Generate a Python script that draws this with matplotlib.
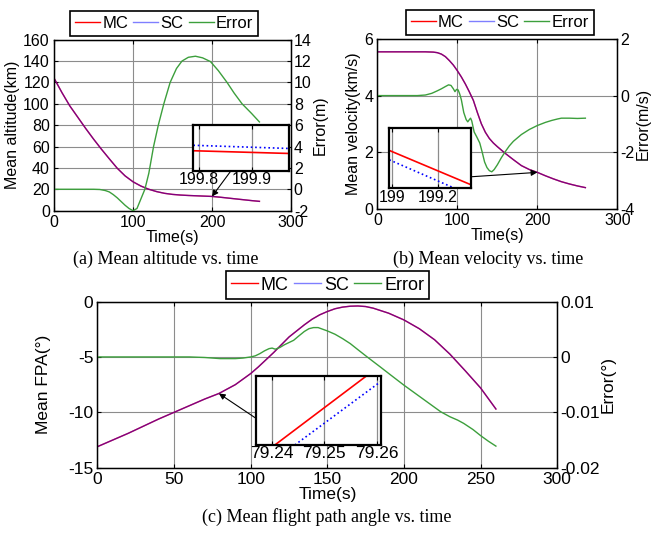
"""Mean altitude, velocity and flight path angle: MC vs SC, with error."""

import matplotlib
matplotlib.use("Agg")
import matplotlib.pyplot as plt

plt.rcParams["font.family"] = ["Liberation Sans", "DejaVu Sans"]
plt.rcParams["axes.unicode_minus"] = False

# ---- (a) mean altitude ----
T_ALT = [0, 10, 20, 30, 40, 50, 60, 70, 80, 90, 100, 110, 120, 130, 140, 150,
         160, 170, 180, 190, 200, 210, 220, 230, 240, 250, 260]
ALT_MC = [124, 110.5, 98, 87.5, 77, 67, 57.5, 48.5, 39.7, 32.5, 27, 23, 20, 17.8,
          16.2, 15.2, 14.6, 14.2, 13.9, 13.6, 13.3, 12.6, 11.8, 11.0, 10.2, 9.4, 8.7]
ALT_SC = [124, 110.5, 98, 87.5, 77, 67, 57.5, 48.5, 39.7, 32.5, 27, 23, 20, 17.8,
          16.2, 15.2, 14.6, 14.2, 13.9, 13.6, 13.3, 12.6, 11.8, 11.0, 10.2, 9.4, 8.7]
T_ALT_ERR = [0, 50, 58, 65, 70, 75, 80, 85, 90, 95, 100, 105, 110, 115, 120, 126,
             132, 139, 147, 155, 162, 170, 179, 188, 198, 208, 219, 228, 238, 250, 260]
ALT_ERR = [0, 0, -0.02, -0.12, -0.25, -0.5, -0.8, -1.15, -1.5, -1.8, -2.0, -1.8,
           -0.9, 0, 1.5, 4, 6, 8, 10, 11.3, 12, 12.35, 12.45, 12.3, 11.95, 11.1,
           10, 9, 8, 7.1, 6.3]
ZOOM_A_T = [199.79, 199.97]
ZOOM_A_MC = [13.288, 13.276]
ZOOM_A_SC = [13.312, 13.298]

# ---- (b) mean velocity ----
T_VEL = [0, 10, 20, 30, 40, 50, 60, 70, 75, 80, 85, 90, 95, 100, 105, 110, 115,
         120, 125, 130, 135, 140, 145, 150, 155, 160, 170, 180, 190, 200, 210,
         220, 230, 240, 250, 260]
VEL_MC = [5.55, 5.55, 5.55, 5.55, 5.55, 5.55, 5.55, 5.54, 5.52, 5.47, 5.38, 5.24,
          5.08, 4.88, 4.66, 4.41, 4.13, 3.83, 3.40, 3.0, 2.7, 2.48, 2.32, 2.19,
          2.07, 1.95, 1.73, 1.52, 1.38, 1.28, 1.16, 1.05, 0.95, 0.87, 0.8, 0.74]
VEL_SC = [5.55, 5.55, 5.55, 5.55, 5.55, 5.55, 5.55, 5.54, 5.52, 5.47, 5.38, 5.24,
          5.08, 4.88, 4.66, 4.41, 4.13, 3.83, 3.40, 3.0, 2.7, 2.48, 2.32, 2.19,
          2.07, 1.95, 1.73, 1.52, 1.38, 1.28, 1.16, 1.05, 0.95, 0.87, 0.8, 0.74]
T_VEL_ERR = [0, 50, 60, 68, 75, 80, 85, 89, 92, 95, 97, 99, 101, 103, 105, 108,
             111, 113, 115, 116.5, 118, 121, 124, 128, 131, 134, 137, 140, 143,
             146, 150, 155, 160, 165, 170, 180, 190, 200, 210, 218, 225, 230, 240,
             250, 260]
VEL_ERR = [0, 0, 0.02, 0.08, 0.17, 0.24, 0.32, 0.38, 0.36, 0.24, 0.14, 0.22, 0.2,
           0.05, -0.15, -0.6, -0.85, -0.93, -0.85, -0.8, -0.9, -1.29, -1.45,
           -1.68, -2.0, -2.35, -2.55, -2.66, -2.7, -2.62, -2.45, -2.2, -1.98,
           -1.78, -1.62, -1.38, -1.2, -1.06, -0.95, -0.88, -0.83, -0.8, -0.8,
           -0.81, -0.8]
ZOOM_B_T = [198.987, 199.347]
ZOOM_B_MC = [1.3125, 1.3012]
ZOOM_B_SC = [1.3094, 1.2977]

# ---- (c) mean flight path angle ----
T_FPA = [0, 10, 20, 30, 40, 50, 60, 70, 79.25, 90, 100, 105, 110, 115, 120, 125,
         130, 135, 140, 145, 150, 155, 160, 165, 170, 175, 180, 190, 200, 210,
         220, 230, 240, 250, 260]
FPA_MC = [-13.1, -12.5, -11.9, -11.25, -10.6, -10.0, -9.4, -8.8, -8.3, -7.5,
          -6.5, -5.9, -5.25, -4.6, -3.9, -3.2, -2.65, -2.1, -1.6, -1.2, -0.9,
          -0.65, -0.5, -0.42, -0.4, -0.45, -0.6, -1.05, -1.66, -2.45, -3.45, -4.75,
          -6.25, -7.8, -9.7]
FPA_SC = [-13.1, -12.5, -11.9, -11.25, -10.6, -10.0, -9.4, -8.8, -8.3, -7.5,
          -6.5, -5.9, -5.25, -4.6, -3.9, -3.2, -2.65, -2.1, -1.6, -1.2, -0.9,
          -0.65, -0.5, -0.42, -0.4, -0.45, -0.6, -1.05, -1.66, -2.45, -3.45, -4.75,
          -6.25, -7.8, -9.7]
T_FPA_ERR = [0, 60, 70, 80, 90, 95, 100, 103, 106, 109, 112, 114, 116, 119, 122,
             125, 128, 131, 135, 138, 141, 144, 147, 150, 155, 160, 165, 170, 176,
             185, 192, 200, 210, 218, 224, 230, 235, 239, 245, 250, 255, 260]
FPA_ERR = [0, 0, -0.0001, -0.0003, -0.0003, -0.0002, 0, 0.0002, 0.0006, 0.0011,
           0.0015, 0.0016, 0.0014, 0.0017, 0.0022, 0.0026, 0.003, 0.0037, 0.0046,
           0.0051, 0.0053, 0.0053, 0.005, 0.0047, 0.0041, 0.0033, 0.0024, 0.0013,
           0, -0.0019, -0.0034, -0.0051, -0.0071, -0.0087, -0.0099, -0.0108,
           -0.0114, -0.012, -0.0131, -0.0142, -0.0152, -0.0161]
ZOOM_C_MC_T = [79.2406, 79.2581]
ZOOM_C_MC = [-8.34, -8.30]
ZOOM_C_SC_T = [79.2444, 79.2608]
ZOOM_C_SC = [-8.34, -8.3033]

RED = "#ff0000"
BLUE = "#0000ff"
GREEN = "#3c9f3c"
GRID = "#8c8c8c"


def style_axes(ax, size):
    ax.tick_params(direction="in", length=3, labelsize=size, pad=3, top=True)
    for sp in ax.spines.values():
        sp.set_linewidth(1.0)


def panel(fig, rect, t, mc, sc, te, err, xlim, ylim, yticks, elim, eticks,
          ylabel, elabel, size, xticks, legend_xy, ypad=2, eticklabels=None):
    ax = fig.add_axes(rect)
    ax.plot(t, mc, color=RED, lw=1.0, label="MC")
    ax.plot(t, sc, color=BLUE, lw=1.0, alpha=0.5, label="SC")
    ax.set_xlim(xlim)
    ax.set_ylim(ylim)
    ax.set_xticks(xticks)
    ax.set_yticks(yticks)
    ax.grid(True, color=GRID, lw=0.8)
    ax.set_xlabel("Time(s)", fontsize=size, labelpad=0)
    ax.set_ylabel(ylabel, fontsize=size, labelpad=ypad)
    style_axes(ax, size)

    ax2 = ax.twinx()
    ax2.plot(te, err, color=GREEN, lw=1.0, label="Error")
    ax2.set_ylim(elim)
    ax2.set_yticks(eticks)
    if eticklabels is not None:
        ax2.set_yticklabels(eticklabels)
    ax2.set_ylabel(elabel, fontsize=size, rotation=90, labelpad=1)
    ax2.tick_params(direction="in", length=3, labelsize=size, pad=2)

    handles = ax.get_lines()[:2] + ax2.get_lines()[:1]
    leg = ax2.legend(handles, ["MC", "SC", "Error"], loc="center",
                     bbox_to_anchor=legend_xy, bbox_transform=fig.transFigure,
                     ncol=3, fontsize=size + 0.5, frameon=True, fancybox=False,
                     edgecolor="k", framealpha=1, handlelength=1.5,
                     handletextpad=0.15, columnspacing=0.3, borderpad=0.3,
                     borderaxespad=0)
    leg.get_frame().set_linewidth(1.2)
    return ax, ax2


def inset(fig, rect, t_mc, mc, t_sc, sc, xlim, ylim, xticks, xticklabels, size):
    axi = fig.add_axes(rect)
    axi.plot(t_mc, mc, color=RED, lw=1.2)
    axi.plot(t_sc, sc, color=BLUE, lw=1.2, ls=":")
    axi.set_xlim(xlim)
    axi.set_ylim(ylim)
    axi.set_xticks(xticks)
    axi.set_xticklabels(xticklabels)
    axi.set_yticks([])
    axi.grid(True, axis="x", color=GRID, lw=0.9)
    axi.tick_params(direction="in", length=3, labelsize=size, pad=1, top=True)
    for sp in axi.spines.values():
        sp.set_linewidth(1.6)
    return axi


def arrow(ax, xy, axi, start):
    ax.annotate("", xy=xy, xycoords="data", xytext=start,
                textcoords=axi.transAxes, annotation_clip=False,
                arrowprops=dict(arrowstyle="-|>", color="k", lw=0.8,
                                mutation_scale=9, shrinkA=0, shrinkB=0))


def main():
    fig = plt.figure(figsize=(6.54, 5.36), dpi=100)
    cap = dict(family=["Liberation Serif", "DejaVu Serif"], fontsize=13,
               ha="center", va="center")

    # (a)
    ax, _ = panel(fig, [0.0826, 0.607, 0.3624, 0.319], T_ALT, ALT_MC, ALT_SC,
                  T_ALT_ERR, ALT_ERR, (0, 300), (0, 160), range(0, 161, 20),
                  (-2, 14), range(-2, 15, 2), "Mean altitude(km)", "Error(m)",
                  11.5, [0, 100, 200, 300], (0.2508, 0.957))
    axi = inset(fig, [0.2956, 0.6815, 0.1463, 0.0847], ZOOM_A_T, ZOOM_A_MC,
                ZOOM_A_T, ZOOM_A_SC, (199.79, 199.97), (13.20, 13.40),
                [199.8, 199.9], ["199.8", "199.9"], 11.5)
    arrow(ax, (200, 13.3), axi, (0.394, 0.0))
    fig.text(0.253, 0.517, "(a) Mean altitude vs. time", **cap)

    # (b)
    ax, _ = panel(fig, [0.577, 0.611, 0.367, 0.316], T_VEL, VEL_MC, VEL_SC,
                  T_VEL_ERR, VEL_ERR, (0, 300), (0, 6), [0, 2, 4, 6],
                  (-4, 2), [-4, -2, 0, 2], "Mean velocity(km/s)", "Error(m/s)",
                  11.5, [0, 100, 200, 300], (0.7645, 0.958))
    axi = inset(fig, [0.5953, 0.6487, 0.1245, 0.113], ZOOM_B_T, ZOOM_B_MC,
                ZOOM_B_T, ZOOM_B_SC, (198.987, 199.347), (1.300, 1.320),
                [199, 199.2], ["199", "199.2"], 11.5)
    arrow(ax, (200, 1.28), axi, (1.0, 0.19))
    fig.text(0.746, 0.517, "(b) Mean velocity vs. time", **cap)

    # (c)
    ax, _ = panel(fig, [0.149, 0.1274, 0.703, 0.31], T_FPA, FPA_MC, FPA_SC,
                  T_FPA_ERR, FPA_ERR, (0, 300), (-15, 0), [-15, -10, -5, 0],
                  (-0.02, 0.01), [-0.02, -0.01, 0, 0.01], "Mean FPA(°)",
                  "Error(°)", 12.5, [0, 50, 100, 150, 200, 250, 300],
                  (0.5008, 0.468), ypad=12,
                  eticklabels=["-0.02", "-0.01", "0", "0.01"])
    axi = inset(fig, [0.3914, 0.1698, 0.1911, 0.1293], ZOOM_C_MC_T, ZOOM_C_MC,
                ZOOM_C_SC_T, ZOOM_C_SC, (79.237, 79.2608), (-8.34, -8.30),
                [79.24, 79.25, 79.26], ["79.24", "79.25", "79.26"], 12.5)
    arrow(ax, (79.25, -8.3), axi, (0.0, 0.385))
    fig.text(0.5, 0.035, "(c) Mean flight path angle vs. time", **cap)

    fig.savefig("out.png", dpi=100)
    plt.close(fig)


if __name__ == "__main__":
    main()
